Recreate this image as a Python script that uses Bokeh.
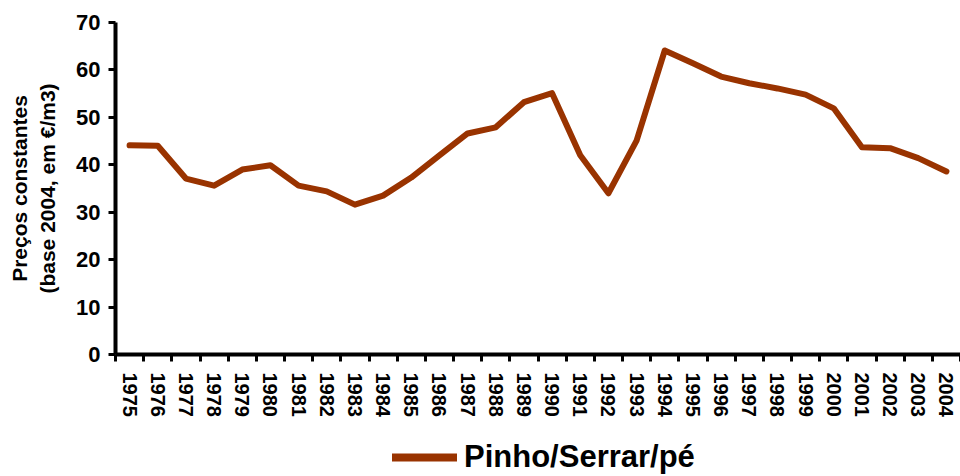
from bokeh.plotting import figure
from bokeh.layouts import column
from bokeh.models import Range1d, FixedTicker, Legend, LegendItem
from bokeh.embed import file_html
from bokeh.resources import INLINE

years = list(range(1975, 2005))
prices = [44.1, 44.0, 37.1, 35.6, 39.0, 39.9, 35.6, 34.4, 31.6, 33.5,
          37.3, 42.0, 46.6, 47.9, 53.2, 55.1, 42.0, 34.0, 45.1, 64.1,
          61.4, 58.6, 57.2, 56.1, 54.8, 51.9, 43.7, 43.5, 41.4, 38.6]
y_ticks = [0, 10, 20, 30, 40, 50, 60, 70]
series_name = "Pinho/Serrar/pé"
y_title = "Preços constantes\n(base 2004, em €/m3)"

FONT = "Liberation Sans"
COLOR = "#993300"

p = figure(width=960, height=420, output_backend="svg", toolbar_location=None,
           x_range=Range1d(years[0] - 0.5, years[-1] + 0.5),
           y_range=Range1d(0, 70),
           min_border_left=115, min_border_right=0, min_border_top=22, min_border_bottom=66)
p.outline_line_color = None
p.xgrid.grid_line_color = None
p.ygrid.grid_line_color = None
p.background_fill_color = "white"

r = p.line(years, prices, line_color=COLOR, line_width=6, line_join="round", line_cap="round")

# x axis: labels at category centres, ticks between categories
xa = p.xaxis[0]
xa.ticker = FixedTicker(ticks=years, minor_ticks=[y - 0.5 for y in years] + [years[-1] + 0.5])
xa.major_tick_out = 0
xa.major_tick_in = 0
xa.minor_tick_out = 7
xa.minor_tick_in = 0
xa.minor_tick_line_width = 3
xa.minor_tick_line_color = "black"
xa.axis_line_width = 4
xa.axis_line_color = "black"
xa.major_label_orientation = -1.5707963
xa.major_label_text_font = FONT
xa.major_label_text_font_style = "bold"
xa.major_label_text_font_size = "20px"
xa.major_label_text_color = "black"
xa.major_label_standoff = 11

ya = p.yaxis[0]
ya.ticker = FixedTicker(ticks=y_ticks)
ya.minor_tick_out = 0
ya.minor_tick_in = 0
ya.major_tick_out = 7
ya.major_tick_in = 0
ya.major_tick_line_width = 3
ya.axis_line_width = 4
ya.axis_line_color = "black"
ya.major_label_text_font = FONT
ya.major_label_text_font_style = "bold"
ya.major_label_text_font_size = "22px"
ya.major_label_text_color = "black"
ya.major_label_standoff = 8
ya.axis_label = y_title
ya.axis_label_text_font = FONT
ya.axis_label_text_font_style = "bold"
ya.axis_label_text_font_size = "21px"
ya.axis_label_text_color = "black"
ya.axis_label_standoff = 14

# legend strip below the chart (series drawn out of view; only its legend shows)
lg = figure(width=960, height=56, output_backend="svg", toolbar_location=None,
            x_range=Range1d(0, 1), y_range=Range1d(0, 1),
            x_axis_location=None, y_axis_location=None,
            min_border_left=0, min_border_right=0, min_border_top=0, min_border_bottom=0)
lg.outline_line_color = None
lg.xgrid.grid_line_color = None
lg.ygrid.grid_line_color = None
lr = lg.line(years, prices, line_color=COLOR, line_width=8, line_cap="round")

legend = Legend(items=[LegendItem(label=series_name, renderers=[lr])],
                location=(277, 1), orientation="horizontal",
                border_line_color=None, background_fill_alpha=0,
                glyph_width=65, glyph_height=30, label_standoff=7,
                label_text_font=FONT, label_text_font_style="bold",
                label_text_font_size="31px", label_text_color="black",
                padding=0, margin=0)
lg.add_layout(legend, "center")

layout = column(p, lg, spacing=0)
open("out.html", "w").write(file_html(layout, INLINE))
